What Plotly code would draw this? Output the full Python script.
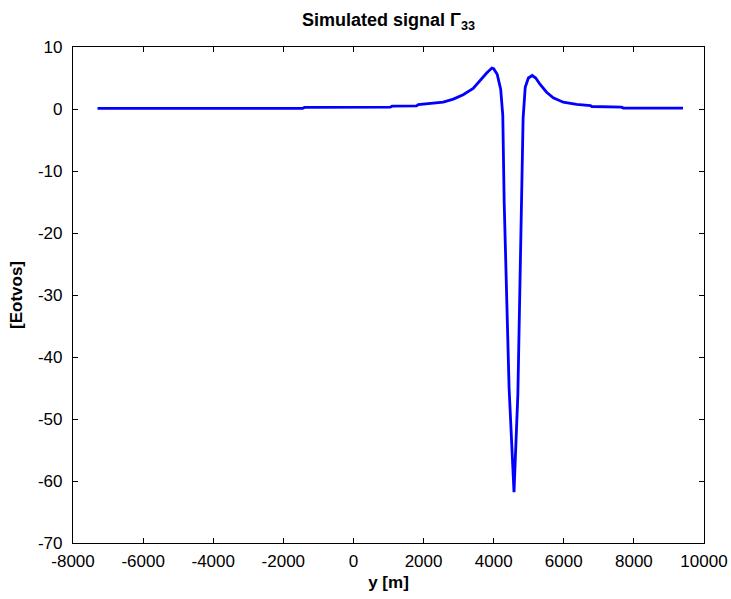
import plotly.graph_objects as go

# Data
y_m = [-7300, -1450, -1400, 1050, 1100, 1800, 1850, 2230, 2560, 2850, 3130, 3415,
       3610, 3800, 3950, 4000, 4100, 4200, 4260, 4300, 4440, 4580, 4690, 4780,
       4840, 4900, 4990, 5100, 5200, 5320, 5510, 5700, 5985, 6366, 6760, 6800,
       7650, 7700, 9400]
gamma33 = [0.1, 0.1, 0.25, 0.3, 0.45, 0.5, 0.7, 0.85, 1.1, 1.6, 2.3, 3.3,
           4.6, 5.8, 6.6, 6.5, 5.6, 3.2, -1.0, -15.0, -45.0, -61.8, -46.0, -17.0,
           -1.5, 3.5, 5.0, 5.4, 5.0, 4.0, 2.7, 1.8, 1.1, 0.75, 0.55, 0.4,
           0.3, 0.15, 0.15]

x_ticks = list(range(-8000, 10001, 2000))
y_ticks = list(range(-70, 11, 10))

FONT = "Liberation Sans, Arial, Helvetica, sans-serif"

fig = go.Figure()
fig.add_trace(go.Scatter(x=y_m, y=gamma33, mode="lines",
                         line=dict(color="rgb(0,0,255)", width=2.8),
                         showlegend=False, hoverinfo="skip"))

axis_common = dict(showline=True, linecolor="black", linewidth=1.2, mirror="allticks",
                   ticks="inside", ticklen=5, tickwidth=1, tickcolor="black",
                   showgrid=False, zeroline=False, automargin=False,
                   tickfont=dict(family=FONT, size=17, color="black"))

fig.update_layout(
    width=731, height=599,
    margin=dict(l=73, r=27, t=47, b=56),
    paper_bgcolor="white", plot_bgcolor="white",
    title=dict(text="<b>Simulated signal Γ<sub>33</sub></b>",
               font=dict(family=FONT, size=18, color="black"),
               x=(73 + 704) / 2 / 731, xanchor="center", y=1 - 20 / 599, yanchor="middle"),
    xaxis=dict(range=[-8000, 10000], tickvals=x_ticks, ticktext=[str(v) for v in x_ticks],
               title=dict(text="<b>y [m]</b>", font=dict(family=FONT, size=17, color="black"),
                          standoff=6),
               ticklabelstandoff=2,
               **axis_common),
    yaxis=dict(range=[-70, 10], tickvals=y_ticks, ticktext=[str(v) for v in y_ticks],
               title=dict(text="<b>[Eotvos]</b>", font=dict(family=FONT, size=17, color="black"),
                          standoff=10),
               ticklabelstandoff=6,
               **axis_common),
)

fig.write_html("out.html")
